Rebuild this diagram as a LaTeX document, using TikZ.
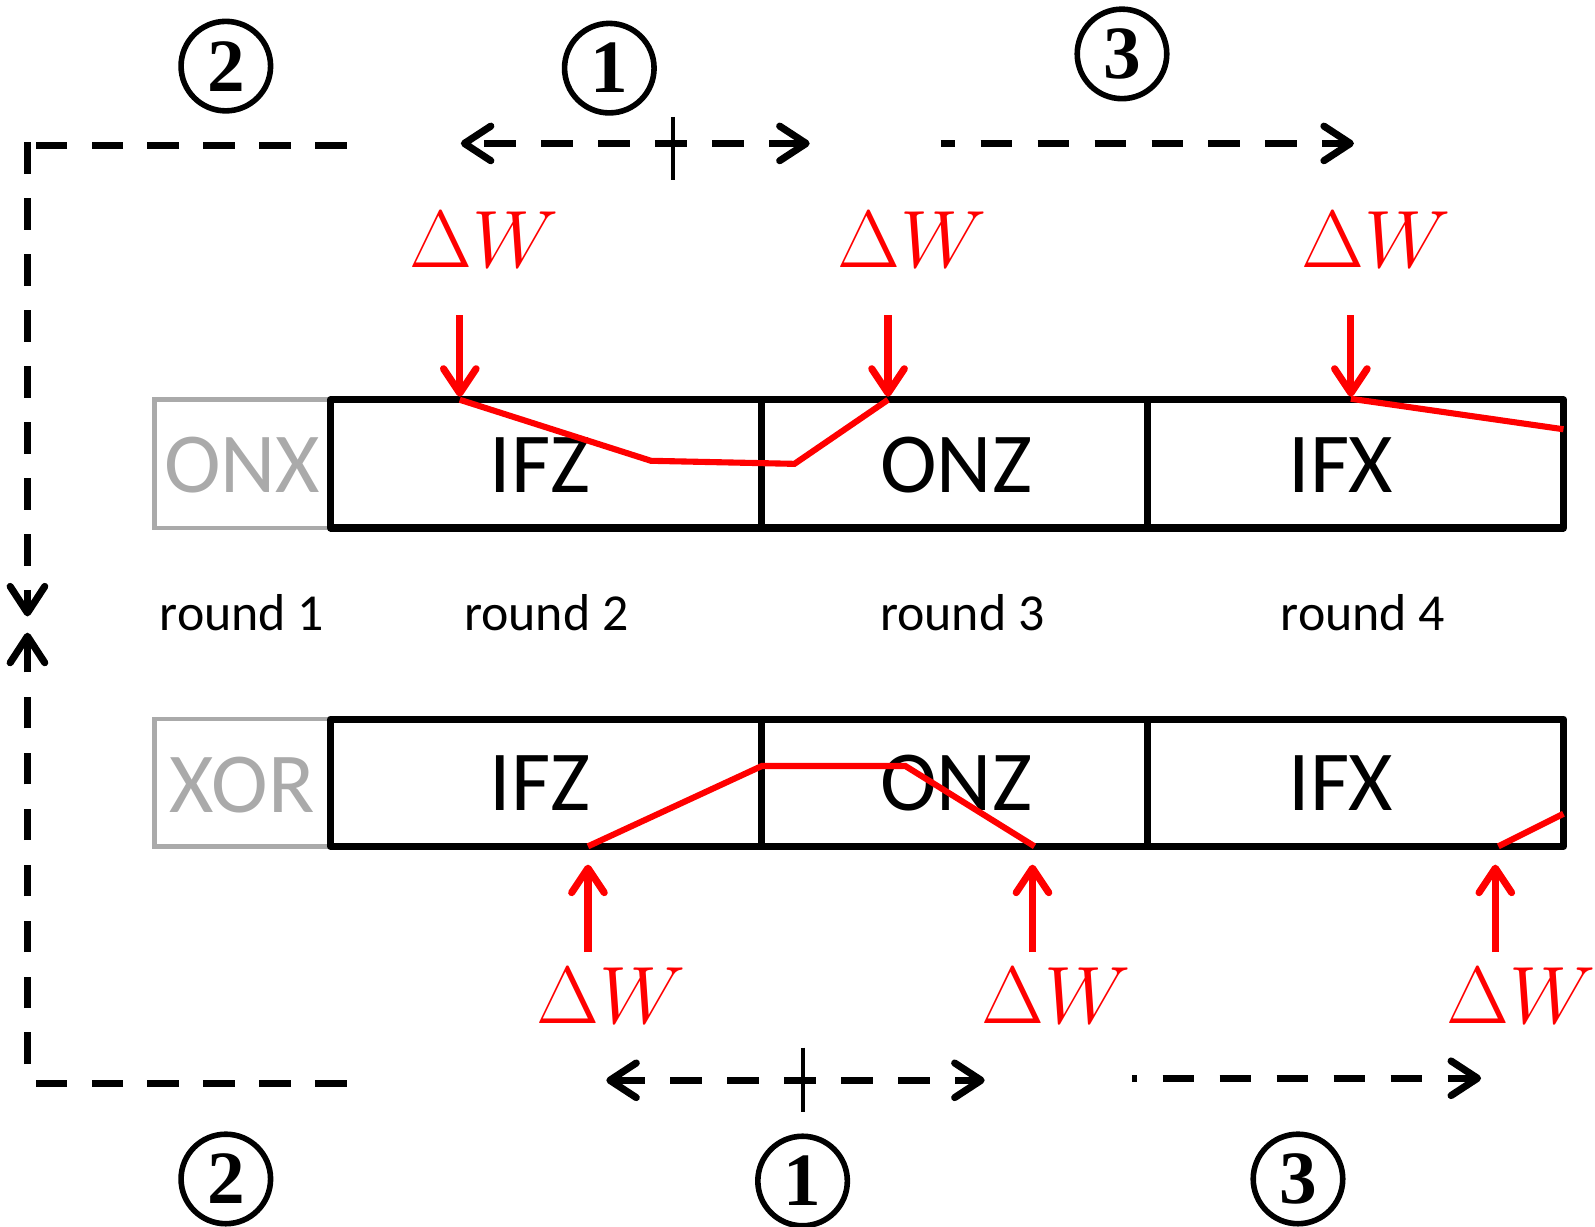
\RequirePackage{fix-cm}
\documentclass[tikz,border=0pt]{standalone}
\usepackage{fontspec}
\setmainfont{Carlito}
\newfontfamily\numfont{Liberation Serif}
\usetikzlibrary{arrows.meta}
\definecolor{framegray}{RGB}{170,170,170}
\definecolor{dwred}{RGB}{255,0,0}
\tikzset{
  flowbarb/.tip={Straight Barb[length=26pt,width=34pt,line width=7pt,line cap=round,line join=round]},
  redbarb/.tip={Straight Barb[length=24pt,width=32pt,line width=7pt,line cap=round,line join=round]}
}

\begin{document}
\begin{tikzpicture}[x=1pt,y=-1pt,
  cellframe/.style={draw=black, line width=7pt, line join=round},
  grayframe/.style={draw=framegray, line width=4.5pt},
  celltext/.style={font=\fontsize{84}{90}\selectfont, inner sep=0pt, anchor=base},
  graytext/.style={celltext, text=framegray},
  roundtext/.style={font=\fontsize{51}{60}\selectfont, inner sep=0pt, anchor=base},
  dwlabel/.style={text=dwred, font=\fontsize{80}{90}\selectfont, inner sep=0pt, anchor=base},
  trail/.style={draw=dwred, line width=6pt, line join=miter},
  inject/.style={draw=dwred, line width=7pt, -{redbarb}},
  flowline/.style={draw=black, line width=7pt, dash pattern=on 31pt off 24pt},
  flowarrow/.style={draw=black, line width=7pt, dash pattern=on 31pt off 25pt},
  midtick/.style={draw=black, line width=4pt},
  numcircle/.style={circle, draw=black, line width=5.5pt, minimum size=88pt,
    inner sep=0pt, font=\fontsize{74}{78}\selectfont\numfont\bfseries}
]
\useasboundingbox (0,0) rectangle (1568,1206);

% ---- upper register row ----
\draw[grayframe] (152,393) rectangle (325,519);
\draw[cellframe] (325,393) rectangle (1537,519);
\draw[cellframe] (749,393) -- (749,519);
\draw[cellframe] (1128,393) -- (1128,519);
\node[graytext] (onx) at (238,484) {ONX};
\node[celltext] (ifzA) at (531,484) {IFZ};
\node[celltext] (onzA) at (940,484) {ONZ};
\node[celltext] (ifxA) at (1318,484) {IFX};

% ---- lower register row ----
\draw[grayframe] (152,707) rectangle (325,832);
\draw[cellframe] (325,707) rectangle (1537,832);
\draw[cellframe] (749,707) -- (749,832);
\draw[cellframe] (1128,707) -- (1128,832);
\node[graytext] (xor) at (238,799) {XOR};
\node[celltext] (ifzB) at (531,797) {IFZ};
\node[celltext] (onzB) at (940,797) {ONZ};
\node[celltext] (ifxB) at (1318,797) {IFX};

% ---- round labels ----
\node[roundtext] (r1) at (238,620) {round 1};
\node[roundtext] (r2) at (537,620) {round 2};
\node[roundtext] (r3) at (946,620) {round 3};
\node[roundtext] (r4) at (1340,620) {round 4};

% ---- difference trails ----
\coordinate (a1) at (452,393);
\coordinate (a2) at (640,453);
\coordinate (a3) at (781,456);
\coordinate (a4) at (873,393);
\coordinate (a5) at (1328,392);
\coordinate (a6) at (1537,422);
\coordinate (b1) at (578,832);
\coordinate (b2) at (749,753);
\coordinate (b3) at (890,753);
\coordinate (b4) at (1017,832);
\coordinate (b5) at (1473,832);
\coordinate (b6) at (1537,800);
\draw[trail] (a1) -- (a2) -- (a3) -- (a4);
\draw[trail] (a5) -- (a6);
\draw[trail] (b1) -- (b2) -- (b3) -- (b4);
\draw[trail] (b5) -- (b6);

% ---- injected differences ----
\node[dwlabel] (dwA1) at (476,263) {$\Delta W$};
\node[dwlabel] (dwA2) at (897,263) {$\Delta W$};
\node[dwlabel] (dwA3) at (1353,263) {$\Delta W$};
\node[dwlabel] (dwB1) at (601,1006) {$\Delta W$};
\node[dwlabel] (dwB2) at (1038,1006) {$\Delta W$};
\node[dwlabel] (dwB3) at (1495,1006) {$\Delta W$};
\coordinate (sA1) at (452,310);
\coordinate (sA2) at (873,310);
\coordinate (sA3) at (1328,310);
\coordinate (tA1) at (452,390);
\coordinate (tA2) at (873,390);
\coordinate (tA3) at (1328,390);
\coordinate (sB1) at (578,936);
\coordinate (sB2) at (1015,936);
\coordinate (sB3) at (1470,936);
\coordinate (tB1) at (578,850);
\coordinate (tB2) at (1015,850);
\coordinate (tB3) at (1470,850);
\draw[inject] (sA1) -- (tA1);
\draw[inject] (sA2) -- (tA2);
\draw[inject] (sA3) -- (tA3);
\draw[inject] (sB1) -- (tB1);
\draw[inject] (sB2) -- (tB2);
\draw[inject] (sB3) -- (tB3);

% ---- step numbers ----
\node[numcircle] (c2t) at (222,65) {2};
\node[numcircle] (c1t) at (599,67) {1};
\node[numcircle] (c3t) at (1103,53) {3};
\node[numcircle] (c2b) at (222,1159) {2};
\node[numcircle] (c1b) at (789,1161) {1};
\node[numcircle] (c3b) at (1276,1159) {3};

% ---- step 2: outer loop ----
\coordinate (lt0) at (341,143);
\coordinate (lt1) at (33,143);
\coordinate (ltc) at (27,140);
\coordinate (ltt) at (27,606);
\coordinate (lb0) at (341,1065);
\coordinate (lb1) at (33,1065);
\coordinate (lbc) at (27,1046);
\coordinate (lbt) at (27,622);
\draw[flowline] (lt0) -- (lt1);
\draw[flowline, -{flowbarb}] (ltc) -- (ltt);
\draw[flowline] (lb0) -- (lb1);
\draw[flowline, -{flowbarb}] (lbc) -- (lbt);

% ---- step 1: two-way search ----
\coordinate (u1l) at (453,141);
\coordinate (u1r) at (796,141);
\coordinate (u1a) at (662,115);
\coordinate (u1b) at (662,177);
\draw[flowarrow, dash phase=40pt, {flowbarb}-{flowbarb}] (u1l) -- (u1r);
\draw[midtick] (u1a) -- (u1b);
\coordinate (d1l) at (596,1062);
\coordinate (d1r) at (968,1062);
\coordinate (d1a) at (789,1030);
\coordinate (d1b) at (789,1093);
\draw[flowarrow, {flowbarb}-{flowbarb}] (d1l) -- (d1r);
\draw[midtick] (d1a) -- (d1b);

% ---- step 3: forward extension ----
\coordinate (u3l) at (925,141);
\coordinate (u3r) at (1331,141);
\draw[flowarrow, dash phase=17pt, -{flowbarb}] (u3l) -- (u3r);
\coordinate (d3l) at (1113,1060);
\coordinate (d3r) at (1456,1060);
\draw[flowarrow, dash phase=26pt, -{flowbarb}] (d3l) -- (d3r);
\end{tikzpicture}
\end{document}
